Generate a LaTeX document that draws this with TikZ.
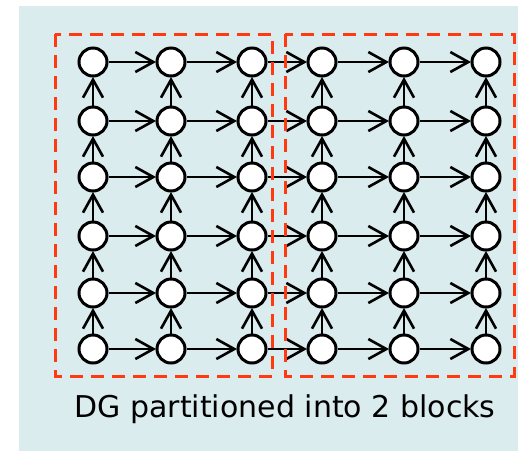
\documentclass[tikz,border=0pt]{standalone}
\usepackage{fontspec}
\setmainfont{DejaVu Sans}
\usetikzlibrary{arrows.meta}
\definecolor{bgblue}{HTML}{DAECEE}
\definecolor{partred}{HTML}{FF3A10}
\tikzset{
  vtx/.style={circle,draw=black,fill=white,line width=3pt,minimum size=28pt,inner sep=0pt},
  edge/.style={line width=2.6pt,-{Straight Barb[length=18pt,width=20pt,line width=2.6pt]},shorten >=-0.5pt},
  block/.style={draw=partred,line width=3pt,dash pattern=on 13pt off 8pt}
}
\begin{document}
\begin{tikzpicture}[x=1pt,y=-1pt]
\useasboundingbox (0,0) rectangle (518,451);
\fill[bgblue] (19,6) rectangle (518,451);
\def\colx{{93,171,252,322,404,486}}
\def\rowy{{62,121,177,236,293,349}}
\foreach \c in {0,...,5}{
  \foreach \r in {0,...,5}{
    \pgfmathsetmacro{\xx}{\colx[\c]}
    \pgfmathsetmacro{\yy}{\rowy[\r]}
    \node[vtx] (n\c\r) at (\xx,\yy) {};
  }
}
\foreach \c [evaluate=\c as \cn using int(\c+1)] in {0,...,4}{
  \foreach \r in {0,...,5}{
    \draw[edge] (n\c\r) -- (n\cn\r);
  }
}
\foreach \c in {0,...,5}{
  \foreach \r [evaluate=\r as \rn using int(\r-1)] in {1,...,5}{
    \draw[edge] (n\c\r) -- (n\c\rn);
  }
}
\draw[block] (55,34) rectangle (272.5,376);
\draw[block] (285,34) rectangle (514,376);
\node[anchor=base,inner sep=0pt,font=\fontsize{30pt}{36pt}\selectfont] (cap) at (285,417) {DG partitioned into 2 blocks};
\end{tikzpicture}
\end{document}
